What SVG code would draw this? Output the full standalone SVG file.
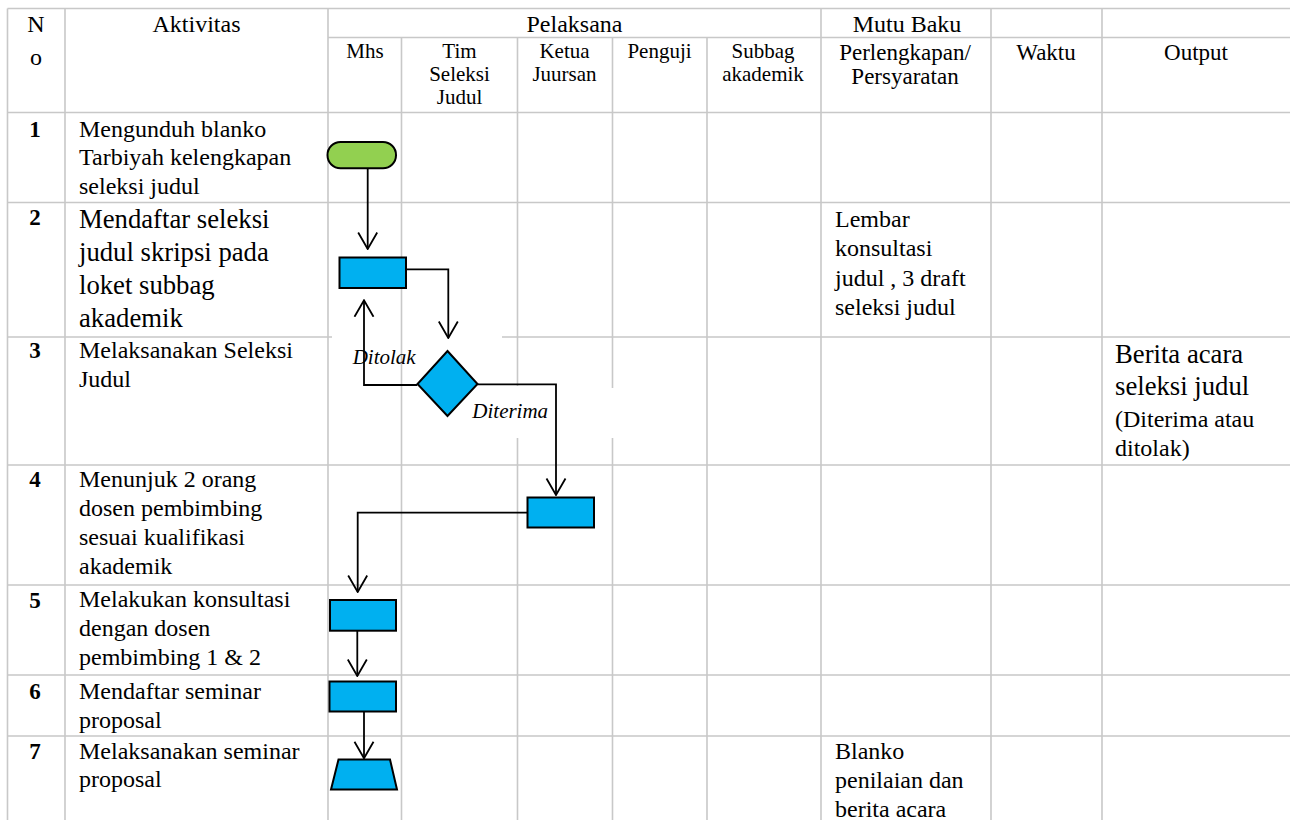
<svg xmlns="http://www.w3.org/2000/svg" width="1290" height="820" viewBox="0 0 1290 820">
<style>
.g{stroke:#c8c8c8;stroke-width:1.6;fill:none}
.t{font-family:"Liberation Serif","Times New Roman",serif;fill:#000}
.h1{font-size:24px;text-anchor:middle}
.h2{font-size:21px;text-anchor:middle}
.h3{font-size:23px;text-anchor:middle}
.n{font-size:23px;font-weight:bold;text-anchor:middle}
.b{font-size:24px}
.L{font-size:26.7px}
.i{font-size:21px;font-style:italic}
.c{stroke:#000;stroke-width:1.8;fill:none}
.p{fill:#00b0f0;stroke:#000;stroke-width:2}
</style>
<defs>
<marker id="arr" viewBox="0 0 18 22" markerWidth="18" markerHeight="22" refX="17" refY="11" orient="auto" markerUnits="userSpaceOnUse">
<path d="M0.5,1.5 L17,11 L0.5,20.5" fill="none" stroke="#000" stroke-width="1.8"/>
</marker>
</defs>
<rect width="1290" height="820" fill="#fff"/>
<g id="grid">
<path class="g" d="M7.5,8.5H1290 M328,37.5H1290 M7.5,112.5H1290 M7.5,202.5H1290 M7.5,337H332 M502,337H1290 M7.5,465H1290 M7.5,585H1290 M7.5,675H1290 M7.5,736H1290"/>
<path class="g" d="M7.5,8.5V820 M65,8.5V820 M328,8.5V820 M821,8.5V820 M991,8.5V820 M1102,8.5V820 M401.5,37.5V820 M517.5,37.5V386 M517.5,438V820 M612.5,37.5V388 M612.5,438V820 M707,37.5V820"/>
</g>
<g id="header">
<text class="t h1" x="36" y="32">N</text>
<text class="t h1" x="36" y="65">o</text>
<text class="t h1" x="196.5" y="32">Aktivitas</text>
<text class="t h1" x="574.5" y="32">Pelaksana</text>
<text class="t h1" x="907" y="32">Mutu Baku</text>
<text class="t h2" x="365" y="57.5">Mhs</text>
<text class="t h2" x="459.5" y="57.5">Tim</text>
<text class="t h2" x="459.5" y="80.5">Seleksi</text>
<text class="t h2" x="459.5" y="104">Judul</text>
<text class="t h2" x="564.5" y="57.5">Ketua</text>
<text class="t h2" x="564.5" y="80.5">Juursan</text>
<text class="t h2" x="659.5" y="57.5">Penguji</text>
<text class="t h2" x="763" y="57.5">Subbag</text>
<text class="t h2" x="763" y="80.5">akademik</text>
<text class="t h3" x="905" y="60">Perlengkapan/</text>
<text class="t h3" x="905" y="84">Persyaratan</text>
<text class="t h3" x="1046" y="60">Waktu</text>
<text class="t h3" x="1196" y="60">Output</text>
</g>
<g id="row1">
<text class="t n" x="35" y="137">1</text>
<text class="t b" x="79" y="137">Mengunduh blanko</text>
<text class="t b" x="79" y="165.3">Tarbiyah kelengkapan</text>
<text class="t b" x="79" y="193.6">seleksi judul</text>
</g>
<g id="row2">
<text class="t n" x="35" y="225">2</text>
<text class="t L" x="79" y="228">Mendaftar seleksi</text>
<text class="t L" x="79" y="261">judul skripsi pada</text>
<text class="t L" x="79" y="294">loket subbag</text>
<text class="t L" x="79" y="327">akademik</text>
<text class="t b" x="835" y="226.5">Lembar</text>
<text class="t b" x="835" y="256">konsultasi</text>
<text class="t b" x="835" y="285.5">judul , 3 draft</text>
<text class="t b" x="835" y="315">seleksi judul</text>
</g>
<g id="row3">
<text class="t n" x="35" y="358">3</text>
<text class="t b" x="79" y="358">Melaksanakan Seleksi</text>
<text class="t b" x="79" y="386.5">Judul</text>
<text class="t L" x="1115" y="363">Berita acara</text>
<text class="t L" x="1115" y="395">seleksi judul</text>
<text class="t b" x="1115" y="427">(Diterima atau</text>
<text class="t b" x="1115" y="455.5">ditolak)</text>
</g>
<g id="row4">
<text class="t n" x="35" y="486.7">4</text>
<text class="t b" x="79" y="486.7">Menunjuk 2 orang</text>
<text class="t b" x="79" y="515.5">dosen pembimbing</text>
<text class="t b" x="79" y="544.5">sesuai kualifikasi</text>
<text class="t b" x="79" y="573.5">akademik</text>
</g>
<g id="row5">
<text class="t n" x="35" y="607.5">5</text>
<text class="t b" x="79" y="607">Melakukan konsultasi</text>
<text class="t b" x="79" y="636">dengan dosen</text>
<text class="t b" x="79" y="665">pembimbing 1 &amp; 2</text>
</g>
<g id="row6">
<text class="t n" x="35" y="699">6</text>
<text class="t b" x="79" y="699">Mendaftar seminar</text>
<text class="t b" x="79" y="727.5">proposal</text>
</g>
<g id="row7">
<text class="t n" x="35" y="759">7</text>
<text class="t b" x="79" y="758.5">Melaksanakan seminar</text>
<text class="t b" x="79" y="787">proposal</text>
<text class="t b" x="835" y="758.5">Blanko</text>
<text class="t b" x="835" y="787.5">penilaian dan</text>
<text class="t b" x="835" y="816.5">berita acara</text>
</g>
<g id="connectors">
<path class="c" d="M367.7,168.3V249" marker-end="url(#arr)"/>
<path class="c" d="M406,269.3H448.3V338" marker-end="url(#arr)"/>
<path class="c" d="M417.3,385H364V300.3" marker-end="url(#arr)"/>
<path class="c" d="M477.3,384.3H556V495" marker-end="url(#arr)"/>
<path class="c" d="M527.5,512.7H357.7V592" marker-end="url(#arr)"/>
<path class="c" d="M357.3,630.7V676" marker-end="url(#arr)"/>
<path class="c" d="M364,711.7V758.3" marker-end="url(#arr)"/>
<text class="t i" x="352.7" y="364.3">Ditolak</text>
<text class="t i" x="472.3" y="418.3">Diterima</text>
</g>
<g id="start"><rect x="327.5" y="142" width="68.5" height="26.3" rx="13" fill="#92d050" stroke="#000" stroke-width="2"/></g>
<g id="daftar"><rect class="p" x="339.5" y="257.5" width="66.5" height="30.5"/></g>
<g id="seleksi"><path class="p" d="M447.5,351L477.5,384L447.5,416L417.5,384Z"/></g>
<g id="menunjuk"><rect class="p" x="527.5" y="497.5" width="66.5" height="30"/></g>
<g id="konsultasi"><rect class="p" x="330" y="600" width="66" height="30.7"/></g>
<g id="seminar-daftar"><rect class="p" x="329.5" y="681.5" width="66.5" height="30"/></g>
<g id="seminar"><path class="p" d="M338.5,759.5H390L397,789.5H331Z"/></g>
</svg>
